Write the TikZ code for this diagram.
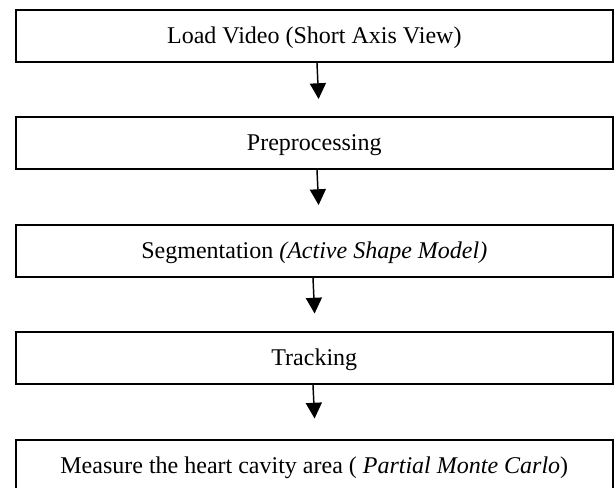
\documentclass[tikz,border=0pt]{standalone}
\usepackage{fontspec}
\setmainfont{Liberation Serif}
\usetikzlibrary{arrows.meta,calc}
\begin{document}
\begin{tikzpicture}[x=0.75pt,y=-0.75pt,
  stepbox/.style={draw=black,line width=1.3pt,rectangle,minimum width=448pt,minimum height=39pt,
    inner sep=0pt,text height=10.8pt,text depth=0pt,font=\fontsize{18}{21.6}\selectfont},
  arr/.style={line width=1.1pt,-{Triangle[width=12pt,length=11.8pt]}}]
\useasboundingbox (0,0) rectangle (615,487);
\clip (0,0) rectangle (615,487);
\node[stepbox] (b1) at (314.3,36.3) {Load Video (Short Axis View)};
\node[stepbox] (b2) at (314.3,143.3) {Preprocessing};
\node[stepbox] (b3) at (314.3,251) {Segmentation \textit{(Active Shape Model)}};
\node[stepbox] (b4) at (314.3,358.3) {Tracking};
\node[stepbox] (b5) at (314.3,466) {Measure the heart cavity area ( \textit{Partial Monte Carlo})};
\coordinate (t1) at (318.6,99);
\coordinate (t2) at (318.6,205);
\coordinate (t3) at (314.6,313.5);
\coordinate (t4) at (314.6,418.5);
\draw[arr] ($(b1.south)+(2.7,0)$) -- (t1);
\draw[arr] ($(b2.south)+(2.7,0)$) -- (t2);
\draw[arr] ($(b3.south)+(-1.3,0)$) -- (t3);
\draw[arr] ($(b4.south)+(-1.3,0)$) -- (t4);
\end{tikzpicture}
\end{document}
